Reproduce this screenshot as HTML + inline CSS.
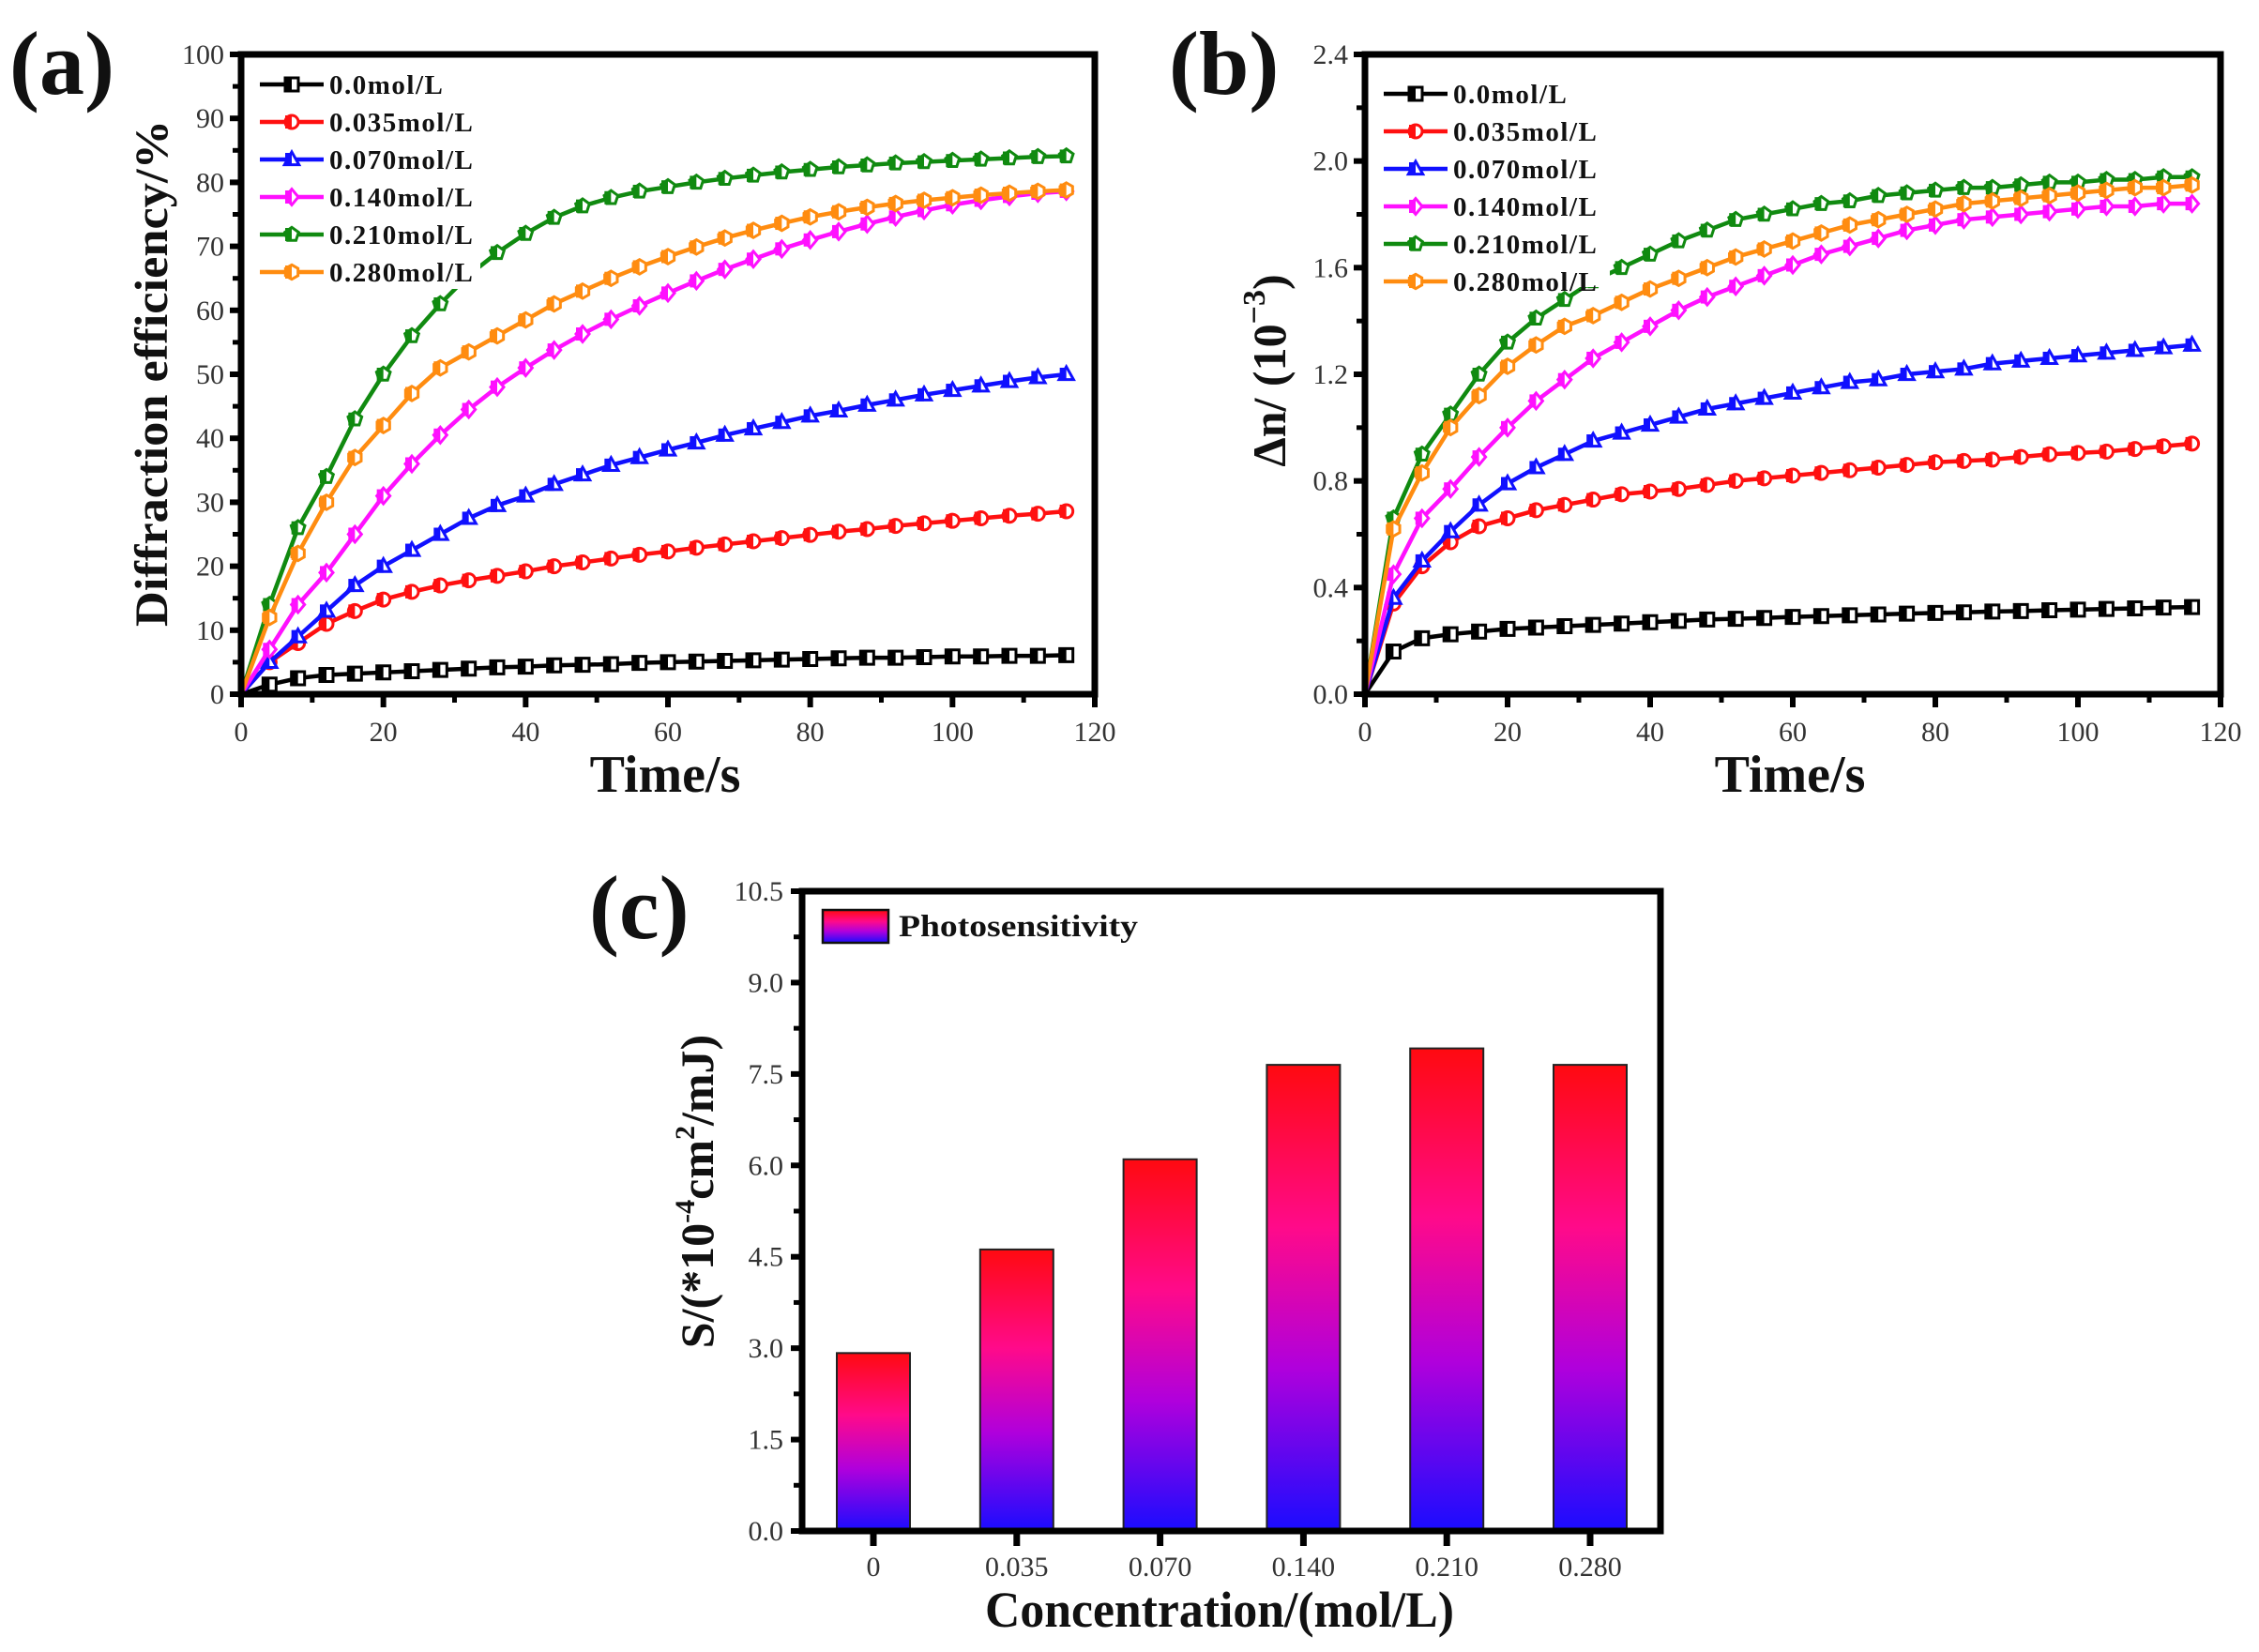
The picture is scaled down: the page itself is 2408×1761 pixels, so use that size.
<!DOCTYPE html>
<html><head><meta charset="utf-8">
<style>
html,body{margin:0;padding:0;background:#fff;}
svg{display:block;font-family:"Liberation Serif",serif;}
</style></head>
<body>
<svg id="fig" width="2408" height="1761" viewBox="0 0 2408 1761" xmlns="http://www.w3.org/2000/svg">
<defs>
<linearGradient id="barGrad" x1="0" y1="0" x2="0" y2="1">
<stop offset="0" stop-color="#ff0a10"/>
<stop offset="0.35" stop-color="#ff0a8a"/>
<stop offset="0.65" stop-color="#b000dc"/>
<stop offset="1" stop-color="#1a0cff"/>
</linearGradient>
</defs>
<g id="root"></g>
</svg>
<script>
// ---------- data ----------
const times = [0,4,8,12,16,20,24,28,32,36,40,44,48,52,56,60,64,68,72,76,80,84,88,92,96,100,104,108,112,116];
const seriesNames = ["0.0mol/L","0.035mol/L","0.070mol/L","0.140mol/L","0.210mol/L","0.280mol/L"];
const seriesColors = ["#000000","#ff1010","#1010ff","#ff10ff","#108a10","#ff8c10"];
const seriesMarkers = ["square","circle","triangle","diamond","pentagon","hexagon"];
const deBlack = [0,1.5,2.5,3,3.2,3.4,3.6,3.8,4,4.2,4.3,4.5,4.6,4.7,4.9,5,5.1,5.2,5.3,5.4,5.5,5.6,5.7,5.7,5.8,5.9,5.9,6,6,6.1];
const deRed = [0,5,8,11,13,14.8,16,17,17.8,18.5,19.2,20,20.6,21.2,21.8,22.3,22.9,23.4,23.9,24.4,24.9,25.4,25.8,26.3,26.7,27.1,27.5,27.9,28.2,28.6];
const deBlue = [0,5,9,13,17,20,22.5,25,27.5,29.5,31,32.8,34.3,35.8,37,38.2,39.3,40.5,41.5,42.5,43.5,44.3,45.2,46,46.8,47.5,48.2,48.9,49.5,50];
const deMagenta = [0,7,14,19,25,31,36,40.5,44.5,48,51,53.8,56.3,58.6,60.7,62.7,64.6,66.4,68,69.6,71,72.3,73.5,74.6,75.6,76.5,77.2,77.8,78.3,78.6];
const deGreen = [0,14,26,34,43,50,56,61,65.5,69,72,74.5,76.3,77.6,78.6,79.3,80,80.6,81.1,81.6,82,82.4,82.7,83,83.2,83.4,83.6,83.8,84,84.1];
const deOrange = [0,12,22,30,37,42,47,51,53.5,56,58.5,61,63,65,66.8,68.4,69.9,71.3,72.5,73.6,74.6,75.4,76.1,76.7,77.2,77.6,78,78.3,78.6,78.8];
const dnBlack = [0,0.16,0.21,0.225,0.235,0.245,0.25,0.255,0.26,0.265,0.27,0.275,0.28,0.283,0.286,0.29,0.293,0.296,0.299,0.302,0.305,0.307,0.31,0.312,0.315,0.317,0.32,0.322,0.325,0.327];
const dnRed = [0,0.34,0.48,0.57,0.63,0.66,0.69,0.71,0.73,0.75,0.76,0.77,0.785,0.8,0.81,0.82,0.83,0.84,0.85,0.86,0.87,0.875,0.88,0.89,0.9,0.905,0.91,0.92,0.93,0.94];
const dnBlue = [0,0.36,0.5,0.61,0.71,0.79,0.85,0.9,0.95,0.98,1.01,1.04,1.07,1.09,1.11,1.13,1.15,1.17,1.18,1.2,1.21,1.22,1.24,1.25,1.26,1.27,1.28,1.29,1.3,1.31];
const dnMagenta = [0,0.45,0.66,0.77,0.89,1.0,1.1,1.18,1.26,1.32,1.38,1.44,1.49,1.53,1.57,1.61,1.65,1.68,1.71,1.74,1.76,1.78,1.79,1.8,1.81,1.82,1.83,1.83,1.84,1.84];
const dnGreen = [0,0.66,0.9,1.05,1.2,1.32,1.41,1.48,1.55,1.6,1.65,1.7,1.74,1.78,1.8,1.82,1.84,1.85,1.87,1.88,1.89,1.9,1.9,1.91,1.92,1.92,1.93,1.93,1.94,1.94];
const dnOrange = [0,0.62,0.83,1.0,1.12,1.23,1.31,1.38,1.42,1.47,1.52,1.56,1.6,1.64,1.67,1.7,1.73,1.76,1.78,1.8,1.82,1.84,1.85,1.86,1.87,1.88,1.89,1.9,1.9,1.91];
const xTicksTime = [0,20,40,60,80,100,120];
const yTicksDE = [0,10,20,30,40,50,60,70,80,90,100];
const yTicksDN = [0,0.4,0.8,1.2,1.6,2.0,2.4];
const barCategories = ["0","0.035","0.070","0.140","0.210","0.280"];
const barValues = [2.92,4.62,6.1,7.65,7.92,7.65];
const yTicksS = [0,1.5,3,4.5,6,7.5,9,10.5];

const NS="http://www.w3.org/2000/svg";
const root=document.getElementById('root');
function mk(tag,attrs,parent){const e=document.createElementNS(NS,tag);for(const k in attrs)e.setAttribute(k,attrs[k]);(parent||root).appendChild(e);return e;}
function txt(s,attrs,parent){const e=mk('text',attrs,parent);e.textContent=s;return e;}

function markerPath(type,x,y,r){
  if(type==="square") return `M${x-r},${y-r}h${2*r}v${2*r}h${-2*r}Z`;
  if(type==="circle") return `M${x-r},${y}a${r},${r} 0 1,0 ${2*r},0a${r},${r} 0 1,0 ${-2*r},0Z`;
  if(type==="triangle") return `M${x},${y-r*1.15}L${x+r*1.1},${y+r*0.8}L${x-r*1.1},${y+r*0.8}Z`;
  if(type==="diamond") return `M${x},${y-r*1.2}L${x+r},${y}L${x},${y+r*1.2}L${x-r},${y}Z`;
  let n=type==="pentagon"?5:6,p="";
  for(let i=0;i<n;i++){const a=-Math.PI/2+i*2*Math.PI/n;p+=(i?"L":"M")+(x+r*1.1*Math.cos(a))+","+(y+r*1.1*Math.sin(a));}
  return p+"Z";
}

function linePanel(cfg){
  const g=mk('g',{});
  
  
  const X=v=>cfg.x0+(v-cfg.xmin)/(cfg.xmax-cfg.xmin)*(cfg.x1-cfg.x0);
  const Y=v=>cfg.y0-(v-cfg.ymin)/(cfg.ymax-cfg.ymin)*(cfg.y0-cfg.y1);
  // series
  cfg.series.forEach((vals,si)=>{
    const sg=mk('g',{},g);
    
    
    const pts=times.map((t,i)=>X(t)+","+Y(vals[i])).join(" ");
    mk('polyline',{points:pts,fill:'none',stroke:seriesColors[si],'stroke-width':4.5,'stroke-linejoin':'round'},sg);
    times.forEach((t,i)=>{
      if(i===0)return;
      const m=mk('path',{d:markerPath(seriesMarkers[si],X(t),Y(vals[i]),7),fill:'#fff',stroke:seriesColors[si],'stroke-width':3},sg);
      
      
      mk('rect',{x:X(t)-7,y:Y(vals[i])-7,width:7,height:14,fill:seriesColors[si]},sg);
    });
  });
  // legend bg
  const lg=mk('g',{},g);
  
  
  mk('rect',{x:cfg.x0+3,y:cfg.y1+4,width:cfg.legW,height:cfg.legH,fill:'#fff'},lg);
  seriesNames.forEach((n,i)=>{
    const e=mk('g',{},lg);
    
    
    const y=cfg.legY+40*i;
    mk('line',{x1:cfg.legX,y1:y,x2:cfg.legX+68,y2:y,stroke:seriesColors[i],'stroke-width':4.5},e);
    mk('path',{d:markerPath(seriesMarkers[i],cfg.legX+34,y,7),fill:'#fff',stroke:seriesColors[i],'stroke-width':3},e);
    mk('rect',{x:cfg.legX+27,y:y-7,width:7,height:14,fill:seriesColors[i]},e);
    txt(n,{x:cfg.legX+74,y:y+10,'font-size':29,'font-weight':'bold',fill:'#111','letter-spacing':1.5},e);
  });
  // frame
  mk('rect',{x:cfg.x0,y:cfg.y1,width:cfg.x1-cfg.x0,height:cfg.y0-cfg.y1,fill:'none',stroke:'#000','stroke-width':7},g);
  // ticks
  cfg.yTicks.forEach((v,i)=>{
    mk('line',{x1:cfg.x0-12,y1:Y(v),x2:cfg.x0,y2:Y(v),stroke:'#000','stroke-width':6},g);
    if(i<cfg.yTicks.length-1){const m=(v+cfg.yTicks[i+1])/2;mk('line',{x1:cfg.x0-9,y1:Y(m),x2:cfg.x0,y2:Y(m),stroke:'#000','stroke-width':5},g);}
    const t=txt(cfg.yFmt(v),{x:cfg.x0-18,y:Y(v)+10,'font-size':30,'text-anchor':'end',fill:'#333'},g);
    
    
  });
  xTicksTime.forEach((v,i)=>{
    mk('line',{x1:X(v),y1:cfg.y0,x2:X(v),y2:cfg.y0+14,stroke:'#000','stroke-width':6},g);
    if(i<xTicksTime.length-1){const m=v+10;mk('line',{x1:X(m),y1:cfg.y0,x2:X(m),y2:cfg.y0+9,stroke:'#000','stroke-width':5},g);}
    const t=txt(String(v),{x:X(v),y:cfg.y0+50,'font-size':30,'text-anchor':'middle',fill:'#333'},g);
    
    
  });
  const xt=txt('Time/s',{x:(cfg.x0+cfg.x1)/2-3,y:cfg.y0+104,'font-size':56,'font-weight':'bold','text-anchor':'middle',fill:'#111'},g);
  
  
  return g;
}

linePanel({name:'panel-a-diffraction-efficiency',x0:257,x1:1167,y0:740,y1:58,xmin:0,xmax:120,ymin:0,ymax:100,
  series:[deBlack,deRed,deBlue,deMagenta,deGreen,deOrange],yTicks:yTicksDE,yFmt:v=>String(v),
  legX:277,legY:90,legW:252,legH:246});
linePanel({name:'panel-b-refractive-index',x0:1455,x1:2367,y0:740,y1:58,xmin:0,xmax:120,ymin:0,ymax:2.4,
  series:[dnBlack,dnRed,dnBlue,dnMagenta,dnGreen,dnOrange],yTicks:yTicksDN,yFmt:v=>v.toFixed(1),
  legX:1475,legY:100,legW:258,legH:244});

// y titles & panel letters
let t;
t=txt('Diffraction efficiency/%',{x:0,y:0,'font-size':50,'font-weight':'bold','text-anchor':'middle',fill:'#111',transform:'translate(178,398) rotate(-90)',textLength:540,lengthAdjust:'spacingAndGlyphs'});


t=txt('',{x:0,y:0,'font-size':50,'font-weight':'bold','text-anchor':'middle',fill:'#111',transform:'translate(1370,395) rotate(-90)'});
t.innerHTML='Δn/ (10<tspan dy="-22" font-size="34">−3</tspan><tspan dy="22">)</tspan>';


t=txt('(a)',{x:10,y:100,'font-size':96,'font-weight':'bold',fill:'#111'});


t=txt('(b)',{x:1246,y:100,'font-size':96,'font-weight':'bold',fill:'#111'});


t=txt('(c)',{x:628,y:1000,'font-size':96,'font-weight':'bold',fill:'#111'});



// ---------- panel c ----------
(function(){
  const g=mk('g',{});
  
  
  const x0=855,x1=1770,y0=1632,y1=950,ymax=10.5;
  const Y=v=>y0-v/ymax*(y0-y1);
  const C=i=>931+i*152.8;
  barCategories.forEach((c,i)=>{
    const b=mk('rect',{x:C(i)-39,y:Y(barValues[i]),width:78,height:y0-Y(barValues[i]),fill:'url(#barGrad)',stroke:'#222','stroke-width':2},g);
    
    
    mk('line',{x1:C(i),y1:y0,x2:C(i),y2:y0+16,stroke:'#000','stroke-width':7},g);
    const l=txt(c,{x:C(i),y:1680,'font-size':30,'text-anchor':'middle',fill:'#333'},g);
    
    
  });
  mk('rect',{x:x0,y:y1,width:x1-x0,height:y0-y1,fill:'none',stroke:'#000','stroke-width':7},g);
  yTicksS.forEach((v,i)=>{
    mk('line',{x1:x0-12,y1:Y(v),x2:x0,y2:Y(v),stroke:'#000','stroke-width':6},g);
    if(i<yTicksS.length-1){const m=v+0.75;mk('line',{x1:x0-9,y1:Y(m),x2:x0,y2:Y(m),stroke:'#000','stroke-width':5},g);}
    const l=txt(v.toFixed(1),{x:x0-20,y:Y(v)+10,'font-size':30,'text-anchor':'end',fill:'#333'},g);
    
    
  });
  const lg=mk('g',{},g);
  
  
  mk('rect',{x:877,y:970,width:70,height:35,fill:'url(#barGrad)',stroke:'#111','stroke-width':2.5},lg);
  txt('Photosensitivity',{x:958,y:998,'font-size':33,'font-weight':'bold',fill:'#111',textLength:255,lengthAdjust:'spacingAndGlyphs'},lg);
  let a=txt('Concentration/(mol/L)',{x:1300,y:1734,'font-size':54,'font-weight':'bold','text-anchor':'middle',fill:'#111',textLength:500,lengthAdjust:'spacingAndGlyphs'},g);
  
  
  a=txt('',{x:0,y:0,'font-size':50,'font-weight':'bold','text-anchor':'middle',fill:'#111',transform:'translate(760,1270) rotate(-90)'},g);
  a.innerHTML='S/(*10<tspan dy="-20" font-size="30">-4</tspan><tspan dy="20">cm</tspan><tspan dy="-20" font-size="30">2</tspan><tspan dy="20">/mJ)</tspan>';
  
  
})();
</script>
</body></html>
